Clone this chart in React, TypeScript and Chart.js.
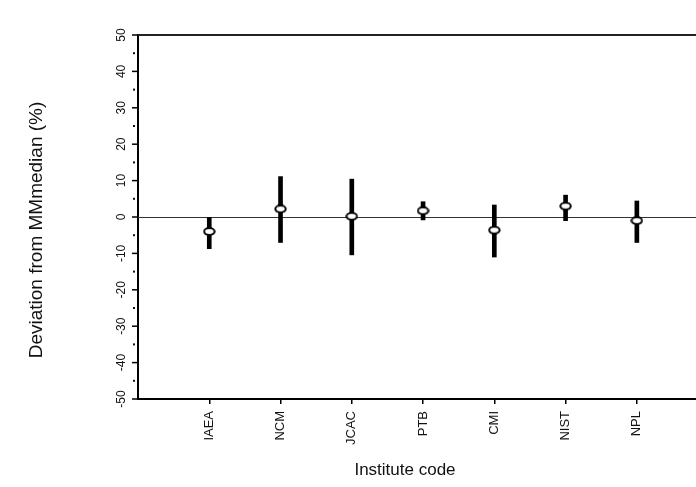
import React, { useEffect, useRef } from 'react';
import { Chart, registerables } from 'chart.js';

Chart.register(...registerables);

const institutes = ['IAEA', 'NCM', 'JCAC', 'PTB', 'CMI', 'NIST', 'NPL'];
const positions = [1, 2, 3, 4, 5, 6, 7];
const deviation = [-4.0, 2.2, 0.2, 1.7, -3.6, 3.0, -1.0];
const lowerLimit = [-8.7, -7.0, -10.4, -0.8, -11.0, -1.0, -7.0];
const upperLimit = [0.0, 11.1, 10.4, 4.2, 3.3, 6.0, 4.4];
const yMajorTicks = [-50, -40, -30, -20, -10, 0, 10, 20, 30, 40, 50];
const yMinorTicks = [-45, -35, -25, -15, -5, 5, 15, 25, 35, 45];
const yTitle = 'Deviation from MMmedian (%)';
const xTitle = 'Institute code';

const FONT = "'Liberation Sans', Arial, sans-serif";

export default function App() {
  const ref = useRef<HTMLCanvasElement | null>(null);

  useEffect(() => {
    if (!ref.current) return;
    const marker = document.createElement('canvas');
    marker.width = 13;
    marker.height = 9;
    const mctx = marker.getContext('2d')!;
    mctx.beginPath();
    mctx.ellipse(6.5, 4.5, 5.2, 3.4, 0, 0, Math.PI * 2);
    mctx.fillStyle = '#fff';
    mctx.fill();
    mctx.lineWidth = 2;
    mctx.strokeStyle = '#000';
    mctx.stroke();

    const decor = {
      id: 'decor',
      beforeDatasetsDraw(chart: any) {
        const { ctx, chartArea } = chart;
        const y = chart.scales.y;
        ctx.save();
        const y0 = Math.round(y.getPixelForValue(0)) + 0.5;
        ctx.strokeStyle = '#333';
        ctx.lineWidth = 1;
        ctx.beginPath();
        ctx.moveTo(chartArea.left, y0);
        ctx.lineTo(chartArea.right, y0);
        ctx.stroke();
        ctx.strokeStyle = '#222';
        ctx.lineWidth = 2;
        ctx.beginPath();
        ctx.moveTo(chartArea.left, chartArea.top);
        ctx.lineTo(chartArea.right, chartArea.top);
        ctx.stroke();
        ctx.restore();
      },
      afterDraw(chart: any) {
        const { ctx, chartArea } = chart;
        const y = chart.scales.y;
        ctx.save();
        ctx.strokeStyle = '#000';
        ctx.fillStyle = '#111';
        ctx.lineWidth = 1.5;
        yMajorTicks.forEach((v) => {
          const py = y.getPixelForValue(v);
          ctx.beginPath();
          ctx.moveTo(chartArea.left - 6, py);
          ctx.lineTo(chartArea.left, py);
          ctx.stroke();
          ctx.save();
          ctx.translate(chartArea.left - 16, py);
          ctx.rotate(-Math.PI / 2);
          ctx.font = `12px ${FONT}`;
          ctx.textAlign = 'center';
          ctx.textBaseline = 'middle';
          ctx.fillText(String(v), 0, 0);
          ctx.restore();
        });
        yMinorTicks.forEach((v) => {
          const py = y.getPixelForValue(v);
          ctx.fillRect(chartArea.left - 5, py - 1, 2, 2);
        });
        // y title
        ctx.save();
        ctx.translate(37, 230);
        ctx.rotate(-Math.PI / 2);
        ctx.font = `19px ${FONT}`;
        ctx.textAlign = 'center';
        ctx.textBaseline = 'middle';
        ctx.fillStyle = '#111';
        ctx.fillText(yTitle, 0, 0);
        ctx.restore();
        // x title
        ctx.font = `17px ${FONT}`;
        ctx.textAlign = 'center';
        ctx.textBaseline = 'middle';
        ctx.fillStyle = '#111';
        ctx.fillText(xTitle, 405, 470);
        ctx.restore();
      },
    };

    const chart = new Chart(ref.current, {
      type: 'bar',
      data: {
        datasets: [
          {
            type: 'scatter',
            data: positions.map((x, i) => ({ x, y: deviation[i] })),
            pointStyle: marker as any,
            pointRadius: 6,
            order: 1,
          } as any,
          {
            type: 'bar',
            data: positions.map((x, i) => ({ x, y: [lowerLimit[i], upperLimit[i]] })) as any,
            backgroundColor: '#000',
            borderWidth: 0,
            barThickness: 4,
            order: 2,
          },
        ],
      },
      options: {
        animation: false,
        responsive: false,
        layout: { autoPadding: false, padding: { top: 35, right: 0, left: 0, bottom: 0 } },
        plugins: { legend: { display: false }, tooltip: { enabled: false } },
        scales: {
          x: {
            type: 'linear',
            min: 0,
            max: 7.83,
            offset: false,
            afterBuildTicks: (s: any) => {
              s.ticks = positions.map((v) => ({ value: v }));
            },
            afterFit: (s: any) => {
              s.height = 88;
              s.paddingRight = 0;
              s.paddingLeft = 0;
            },
            ticks: {
              callback: (v: any) => institutes[positions.indexOf(Number(v))] ?? '',
              minRotation: 90,
              maxRotation: 90,
              autoSkip: false,
              color: '#111',
              padding: 7,
              font: { family: FONT, size: 13 },
            },
            grid: {
              offset: false,
              drawOnChartArea: false,
              drawTicks: true,
              tickLength: 5,
              color: '#000',
              lineWidth: 1.5,
            },
            border: { display: true, color: '#000', width: 2 },
            title: { display: false },
          },
          y: {
            type: 'linear',
            min: -50,
            max: 50,
            afterFit: (s: any) => {
              s.width = 138;
            },
            ticks: { display: false },
            grid: { drawOnChartArea: false, drawTicks: false },
            border: { display: true, color: '#000', width: 2 },
          },
        },
      } as any,
      plugins: [decor],
    });
    return () => chart.destroy();
  }, []);

  return (
    <div style={{ position: 'fixed', left: 0, top: 0, width: 696, height: 487, background: '#fff' }}>
      <canvas ref={ref} width={696} height={487} />
    </div>
  );
}
